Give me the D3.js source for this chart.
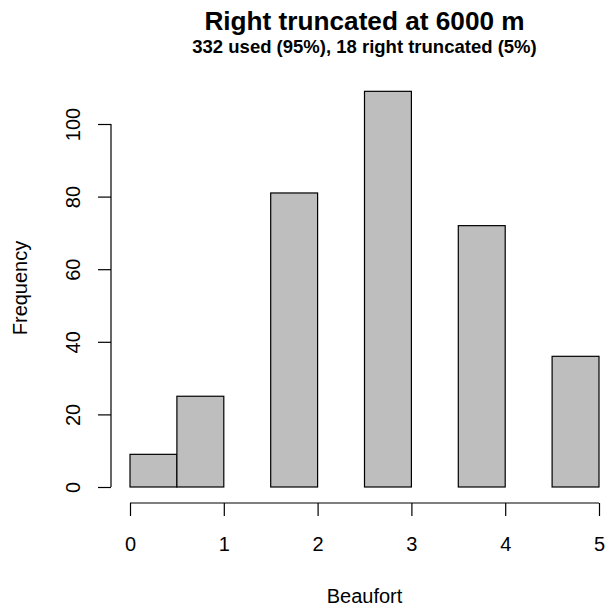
<!DOCTYPE html>
<html>
<head>
<meta charset="utf-8">
<script src="https://cdn.jsdelivr.net/npm/d3@7"></script>
<style>
  body { margin: 0; background: #fff; }
  text { font-family: "Liberation Sans", Arial, sans-serif; fill: #000; }
</style>
</head>
<body>
<div id="chart"></div>
<script>
// histogram bins (Beaufort) and counts
const binStarts = [0, 0.5, 1, 1.5, 2, 2.5, 3, 3.5, 4, 4.5];
const binWidth = 0.5;
const counts = [9, 25, 0, 81, 0, 109, 0, 72, 0, 36];
const xTicks = [0, 1, 2, 3, 4, 5];
const yTicks = [0, 20, 40, 60, 80, 100];
const title = "Right truncated at 6000 m";
const subtitle = "332 used (95%), 18 right truncated (5%)";

const W = 609, H = 609;
const svg = d3.select("#chart").append("svg")
    .attr("width", W)
    .attr("height", H);

// scales
const x = d3.scaleLinear().domain([0, 5]).range([130, 599]);
const y = d3.scaleLinear().domain([0, 100]).range([487, 124]);

// bars
svg.append("g")
    .selectAll("rect")
    .data(binStarts)
    .join("rect")
    .attr("x", d => x(d))
    .attr("width", d => x(d + binWidth) - x(d))
    .attr("y", (d, i) => y(counts[i]))
    .attr("height", (d, i) => y(0) - y(counts[i]))
    .attr("fill", "#bebebe")
    .attr("stroke", "#000")
    .attr("stroke-width", 1.2);

// x axis
const xAxis = svg.append("g")
    .attr("transform", "translate(0,503)")
    .call(d3.axisBottom(x).tickValues(xTicks).tickSize(13).tickFormat(d3.format("d")));

// y axis
const yAxis = svg.append("g")
    .attr("transform", "translate(111,0)")
    .call(d3.axisLeft(y).tickValues(yTicks).tickSize(13).tickFormat(d3.format("d")));

[xAxis, yAxis].forEach(g => {
    g.select(".domain").attr("stroke", "#000").attr("stroke-width", 1.2);
    g.selectAll(".tick line").attr("stroke", "#000").attr("stroke-width", 1.2);
    g.selectAll(".tick text").style("font-size", "20px").attr("fill", "#000");
});

// remove outer ticks from domain paths
xAxis.select(".domain").attr("d", `M${x(0)},0H${x(5)}`);
yAxis.select(".domain").attr("d", `M0,${y(0)}V${y(100)}`);

xAxis.selectAll(".tick text")
    .attr("y", 48)
    .attr("dy", 0);

// rotate y tick labels like R
yAxis.selectAll(".tick text")
    .attr("transform", "rotate(-90)")
    .attr("x", 0)
    .attr("y", -31)
    .attr("dy", 0)
    .attr("text-anchor", "middle");

// titles
svg.append("text")
    .attr("x", 364.5).attr("y", 30)
    .attr("text-anchor", "middle")
    .style("font-size", "26.2px").style("font-weight", "bold")
    .text(title);

svg.append("text")
    .attr("x", 364.5).attr("y", 53)
    .attr("text-anchor", "middle")
    .style("font-size", "18.5px").style("font-weight", "bold")
    .text(subtitle);

// axis labels
svg.append("text")
    .attr("x", 364.5).attr("y", 603)
    .attr("text-anchor", "middle")
    .style("font-size", "20px")
    .text("Beaufort");

svg.append("text")
    .attr("transform", "translate(27,288) rotate(-90)")
    .attr("text-anchor", "middle")
    .style("font-size", "20px")
    .text("Frequency");
</script>
</body>
</html>
